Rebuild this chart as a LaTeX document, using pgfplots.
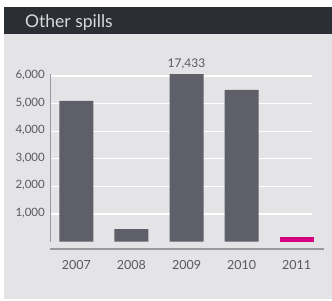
\documentclass[border=0pt]{standalone}
\usepackage{pgfplots}
\pgfplotsset{compat=1.18}
\usepackage{pgfplotstable}
\usepackage{fontspec}
\setmainfont{Lato}
\definecolor{titlebg}{HTML}{2C2E36}
\definecolor{bodybg}{HTML}{E4E4E6}
\definecolor{bargray}{HTML}{5E5F68}
\definecolor{magbar}{HTML}{D6007F}
\definecolor{txt}{HTML}{5A5A5E}
\definecolor{axln}{HTML}{9A9A9E}
\pgfplotstableread{
x y label
0 5100 {}
1 450 {}
2 17433 {17,433}
3 5500 {}
}\spills
\pgfplotstableread{
x y
4 150
}\spillsB
\begin{document}
\begin{tikzpicture}
\fill[white] (0pt,0pt) rectangle (332pt,300pt);
\fill[bodybg] (4pt,1pt) rectangle (332pt,266pt);
\fill[titlebg] (4pt,266pt) rectangle (332pt,293pt);
\node[anchor=base west, text=black!15, font=\fontsize{17.5}{20}\selectfont, inner sep=0pt] at (25pt,272pt) {Other spills};
\begin{axis}[
  at={(50pt,58.4pt)}, anchor=south west,
  scale only axis, width=262pt, height=167.6pt,
  xmin=-0.48, xmax=4.28, ymin=0, ymax=6072,
  axis line style={draw=none},
  major tick length=0pt,
  xtick={0,1,2,3,4},
  xticklabels={2007,2008,2009,2010,2011},
  ytick={1000,2000,3000,4000,5000,6000},
  yticklabel style={anchor=mid east, inner sep=0pt, xshift=-5pt, text=txt, font=\fontsize{11.5}{13}\selectfont},
  xticklabel style={anchor=base, inner sep=0pt, yshift=-27.4pt, text=txt, font=\fontsize{12.5}{14}\selectfont},
  /pgf/number format/assume math mode=true,
  /pgf/number format/1000 sep={,},
  ymajorgrids, grid style={white, line width=1.2pt},
  clip=false,
]
\addplot[ybar, bar width=34pt, bar shift=0pt, fill=bargray, draw=none,
  y filter/.expression={min(y,6072)},
  point meta=explicit symbolic,
  nodes near coords, nodes near coords style={text=txt, font=\fontsize{12}{14}\selectfont, anchor=base, yshift=7pt, inner sep=0pt}]
  table[x=x, y=y, meta=label] {\spills};
\addplot[ybar, bar width=34pt, bar shift=0pt, fill=magbar, draw=none] table[x=x,y=y] {\spillsB};
\end{axis}
\draw[axln, line width=1.3pt] (50pt,51pt) -- (324pt,51pt);
\draw[axln, line width=1pt] (50pt,58.4pt) -- (50pt,226pt);
\pgfresetboundingbox
\useasboundingbox (0pt,0pt) rectangle (332pt,300pt);
\end{tikzpicture}
\end{document}
